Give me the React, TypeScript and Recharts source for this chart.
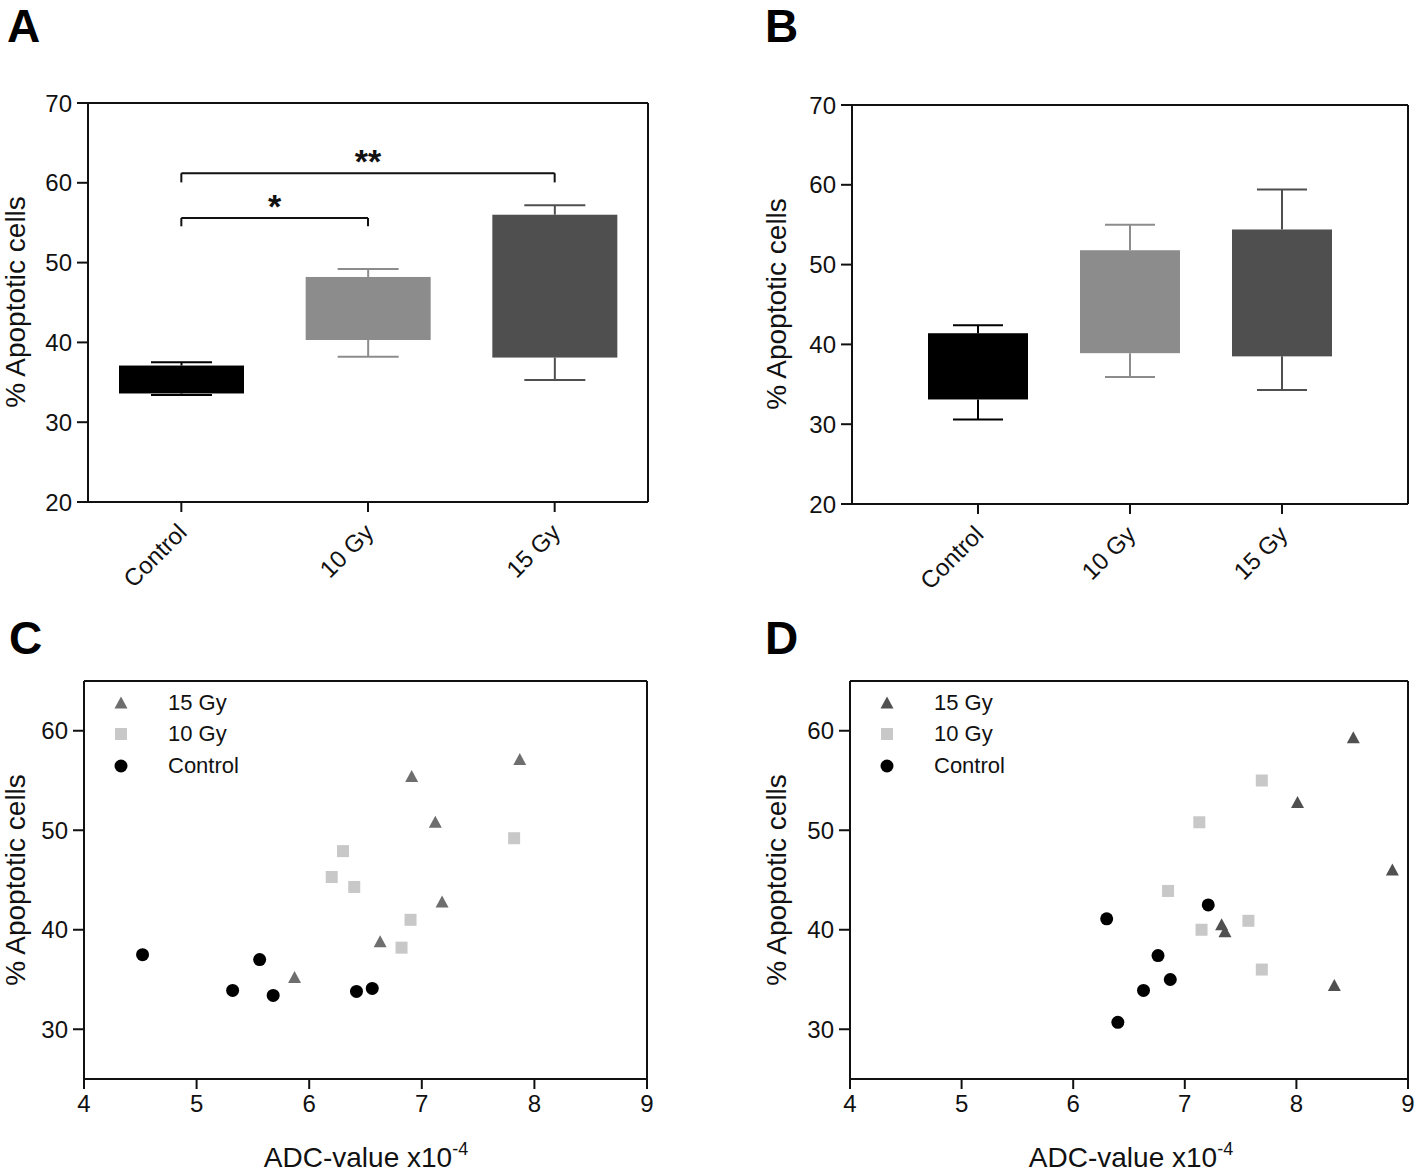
import React from "react";
import {
  Bar,
  ComposedChart,
  Legend,
  ReferenceLine,
  Scatter,
  ScatterChart,
  XAxis,
  YAxis,
} from "recharts";

const FONT = "'Liberation Sans', Arial, Helvetica, sans-serif";
const INK = "#111111";

const groups = ["Control", "10 Gy", "15 Gy"];
const groupColors = ["#000000", "#8c8c8c", "#4f4f4f"];

// panel A (box: min, q1, q3, max)
const aMin = [33.4, 38.2, 35.3];
const aQ1 = [33.6, 40.3, 38.1];
const aQ3 = [37.1, 48.2, 56.0];
const aMax = [37.5, 49.2, 57.2];

// panel B
const bMin = [30.6, 35.9, 34.3];
const bQ1 = [33.1, 38.9, 38.5];
const bQ3 = [41.4, 51.8, 54.4];
const bMax = [42.4, 55.0, 59.4];

const percentTicks = [20, 30, 40, 50, 60, 70];

// significance brackets, panel A
const brackets = [
  { from: "Control", to: "10 Gy", y: 55.6, drop: 1.05, label: "*" },
  { from: "Control", to: "15 Gy", y: 61.2, drop: 1.15, label: "**" },
];

// panel C scatter
const c15x = [6.91, 7.87, 7.12, 7.18, 6.63, 5.87];
const c15y = [55.4, 57.1, 50.8, 42.8, 38.8, 35.2];
const c10x = [6.3, 6.2, 6.4, 7.82, 6.9, 6.82];
const c10y = [47.9, 45.3, 44.3, 49.2, 41.0, 38.2];
const cCtlx = [4.52, 5.56, 5.32, 5.68, 6.42, 6.56];
const cCtly = [37.5, 37.0, 33.9, 33.4, 33.8, 34.1];

// panel D scatter
const d15x = [8.51, 8.01, 8.86, 7.33, 7.36, 8.34];
const d15y = [59.3, 52.8, 46.0, 40.5, 39.8, 34.4];
const d10x = [7.69, 7.13, 6.85, 7.15, 7.57, 7.69];
const d10y = [55.0, 50.8, 43.9, 40.0, 40.9, 36.0];
const dCtlx = [6.3, 7.21, 6.76, 6.87, 6.63, 6.4];
const dCtly = [41.1, 42.5, 37.4, 35.0, 33.9, 30.7];

const adcTicks = [4, 5, 6, 7, 8, 9];
const scatterYTicks = [30, 40, 50, 60];
const legendOrder = ["15 Gy", "10 Gy", "Control"];

const makeBoxes = (mn: number[], q1: number[], q3: number[], mx: number[]) =>
  groups.map((name, i) => ({
    name,
    range: [mn[i], mx[i]],
    min: mn[i],
    q1: q1[i],
    q3: q3[i],
    max: mx[i],
    color: groupColors[i],
  }));

const toPoints = (xs: number[], ys: number[]) => xs.map((x, i) => ({ x, y: ys[i] }));

const boxA = makeBoxes(aMin, aQ1, aQ3, aMax);
const boxB = makeBoxes(bMin, bQ1, bQ3, bMax);

const axisLine = { stroke: INK, strokeWidth: 2 };
const tickStyle = { fontSize: 24, fill: INK, fontFamily: FONT };

const BoxShape = (props: any) => {
  const { x, y, width, height, payload, capWidth } = props;
  const top = Math.min(y, y + height);
  const h = Math.abs(height);
  const ppu = h / (payload.max - payload.min);
  const yQ3 = top + (payload.max - payload.q3) * ppu;
  const yQ1 = top + (payload.max - payload.q1) * ppu;
  const bottom = top + h;
  const cx = x + width / 2;
  const c = payload.color;
  return (
    <g>
      <line x1={cx} x2={cx} y1={top} y2={yQ3} stroke={c} strokeWidth={2} />
      <line x1={cx} x2={cx} y1={yQ1} y2={bottom} stroke={c} strokeWidth={2} />
      <line x1={cx - capWidth / 2} x2={cx + capWidth / 2} y1={top} y2={top} stroke={c} strokeWidth={2} />
      <line x1={cx - capWidth / 2} x2={cx + capWidth / 2} y1={bottom} y2={bottom} stroke={c} strokeWidth={2} />
      <rect x={x} y={yQ3} width={width} height={yQ1 - yQ3} fill={c} />
    </g>
  );
};

const CatTick = ({ x, y, payload }: any) => {
  const tx = x + 7;
  const ty = y + 20;
  return (
    <text
      x={tx}
      y={ty}
      transform={`rotate(-45 ${tx} ${ty})`}
      textAnchor="end"
      fontSize={24}
      fill={INK}
      fontFamily={FONT}
    >
      {payload.value}
    </text>
  );
};

const marker = (kind: string, cx: number, cy: number, fill: string) => {
  if (kind === "triangle")
    return <polygon points={`${cx},${cy - 6.5} ${cx - 6.5},${cy + 5.5} ${cx + 6.5},${cy + 5.5}`} fill={fill} />;
  if (kind === "square") return <rect x={cx - 6} y={cy - 6} width={12} height={12} fill={fill} />;
  return <circle cx={cx} cy={cy} r={6.5} fill={fill} />;
};

const kinds: Record<string, string> = { "15 Gy": "triangle", "10 Gy": "square", Control: "circle" };

const ScatterLegend = ({ payload }: any) => {
  const items = [...(payload || [])].sort(
    (a: any, b: any) => legendOrder.indexOf(a.value) - legendOrder.indexOf(b.value)
  );
  return (
    <div style={{ fontFamily: FONT, fontSize: 22, color: INK }}>
      {items.map((p: any) => (
        <div key={p.value} style={{ display: "flex", alignItems: "center", height: 31.5 }}>
          <svg width={22} height={22}>
            {marker(kinds[p.value], 11, 11, p.color)}
          </svg>
          <span style={{ marginLeft: 36 }}>{p.value}</span>
        </div>
      ))}
    </div>
  );
};

const BoxPanel = ({ data, yAxisWidth, width, top, barSize, capWidth, padding, showBrackets }: any) => (
  <ComposedChart width={width} height={620} data={data} margin={{ top: top - 1, right: 9, bottom: 0, left: 0 }}>
    <XAxis
      dataKey="name"
      height={620 - top - 400 + 1}
      interval={0}
      padding={padding}
      tick={<CatTick />}
      tickSize={10}
      tickLine={axisLine}
      axisLine={axisLine}
    />
    <XAxis xAxisId="top" dataKey="name" orientation="top" height={1} tick={false} tickLine={false} axisLine={axisLine} />
    <YAxis
      domain={[20, 70]}
      ticks={percentTicks}
      width={yAxisWidth}
      tickSize={11}
      tickMargin={5}
      tick={tickStyle}
      tickLine={axisLine}
      axisLine={axisLine}
    />
    <YAxis yAxisId="right" orientation="right" domain={[20, 70]} width={1} tick={false} tickLine={false} axisLine={axisLine} />
    <Bar
      dataKey="range"
      barSize={barSize}
      isAnimationActive={false}
      shape={(p: any) => <BoxShape {...p} capWidth={capWidth} />}
    />
    {showBrackets &&
      brackets.flatMap((b, i) => [
        <ReferenceLine
          key={`h${i}`}
          segment={[
            { x: b.from, y: b.y },
            { x: b.to, y: b.y },
          ]}
          stroke={INK}
          strokeWidth={2}
          label={{ value: b.label, position: "top", offset: 0, fontSize: 34, fontWeight: "bold", fill: INK, fontFamily: FONT }}
        />,
        <ReferenceLine
          key={`l${i}`}
          segment={[
            { x: b.from, y: b.y },
            { x: b.from, y: b.y - b.drop },
          ]}
          stroke={INK}
          strokeWidth={2}
        />,
        <ReferenceLine
          key={`r${i}`}
          segment={[
            { x: b.to, y: b.y },
            { x: b.to, y: b.y - b.drop },
          ]}
          stroke={INK}
          strokeWidth={2}
        />,
      ])}
  </ComposedChart>
);

const ScatterPanel = ({ series, yAxisWidth, width, legendLeft }: any) => (
  <ScatterChart width={width} height={539} margin={{ top: 80, right: 9, bottom: 0, left: 0 }}>
    <XAxis
      type="number"
      dataKey="x"
      domain={[4, 9]}
      ticks={adcTicks}
      height={60}
      tickSize={10}
      tickMargin={6}
      tick={tickStyle}
      tickLine={axisLine}
      axisLine={axisLine}
    />
    <XAxis xAxisId="top" type="number" dataKey="x" domain={[4, 9]} orientation="top" height={1} tick={false} tickLine={false} axisLine={axisLine} />
    <YAxis
      type="number"
      dataKey="y"
      domain={[25, 65]}
      ticks={scatterYTicks}
      width={yAxisWidth}
      tickSize={11}
      tickMargin={5}
      tick={tickStyle}
      tickLine={axisLine}
      axisLine={axisLine}
    />
    <YAxis yAxisId="right" type="number" dataKey="y" orientation="right" domain={[25, 65]} width={1} tick={false} tickLine={false} axisLine={axisLine} />
    <Legend
      layout="vertical"
      align="center"
      verticalAlign="middle"
      wrapperStyle={{ left: legendLeft, top: 87, width: 200 }}
      content={<ScatterLegend />}
    />
    {series.map((s: any) => (
      <Scatter
        key={s.name}
        name={s.name}
        data={s.data}
        fill={s.color}
        isAnimationActive={false}
        shape={(p: any) => marker(kinds[s.name], p.cx, p.cy, s.color)}
      />
    ))}
  </ScatterChart>
);

const seriesC = [
  { name: "15 Gy", data: toPoints(c15x, c15y), color: "#6e6e6e" },
  { name: "10 Gy", data: toPoints(c10x, c10y), color: "#c8c8c8" },
  { name: "Control", data: toPoints(cCtlx, cCtly), color: "#000000" },
];

const seriesD = [
  { name: "15 Gy", data: toPoints(d15x, d15y), color: "#505050" },
  { name: "10 Gy", data: toPoints(d10x, d10y), color: "#c8c8c8" },
  { name: "Control", data: toPoints(dCtlx, dCtly), color: "#000000" },
];

const YTitle = ({ x, y }: { x: number; y: number }) => (
  <text x={x} y={y} transform={`rotate(-90 ${x} ${y})`} textAnchor="middle" fontSize={28} fill={INK} fontFamily={FONT}>
    % Apoptotic cells
  </text>
);

const XTitle = ({ x, y }: { x: number; y: number }) => (
  <text x={x} y={y} textAnchor="middle" fontSize={28} fill={INK} fontFamily={FONT}>
    ADC-value x10
    <tspan fontSize={18} dy={-12}>
      -4
    </tspan>
  </text>
);

const Letter = ({ x, y, children }: any) => (
  <text x={x} y={y} fontSize={46} fontWeight="bold" fill="#000" fontFamily={FONT}>
    {children}
  </text>
);

export default function App() {
  return (
    <div style={{ position: "absolute", left: 0, top: 0, width: 1418, height: 1173, background: "#fff" }}>
      <div style={{ position: "absolute", left: 0, top: 0 }}>
        <BoxPanel data={boxA} yAxisWidth={88} width={658} top={103} barSize={125} capWidth={61} padding={{ left: 0, right: 0 }} showBrackets />
      </div>
      <div style={{ position: "absolute", left: 764, top: 0 }}>
        <BoxPanel data={boxB} yAxisWidth={88} width={654} top={105} barSize={100} capWidth={50} padding={{ left: 50, right: 50 }} />
      </div>
      <div style={{ position: "absolute", left: 0, top: 600 }}>
        <ScatterPanel series={seriesC} yAxisWidth={84} width={657} legendLeft={110} />
      </div>
      <div style={{ position: "absolute", left: 764, top: 600 }}>
        <ScatterPanel series={seriesD} yAxisWidth={86} width={654} legendLeft={112} />
      </div>
      <svg width={1418} height={1173} style={{ position: "absolute", left: 0, top: 0, pointerEvents: "none" }}>
        <Letter x={7} y={42}>A</Letter>
        <Letter x={765} y={42}>B</Letter>
        <Letter x={9} y={654}>C</Letter>
        <Letter x={765} y={654}>D</Letter>
        <YTitle x={25} y={302} />
        <YTitle x={786} y={304} />
        <YTitle x={25} y={880} />
        <YTitle x={786} y={880} />
        <XTitle x={366} y={1167} />
        <XTitle x={1131} y={1167} />
      </svg>
    </div>
  );
}
